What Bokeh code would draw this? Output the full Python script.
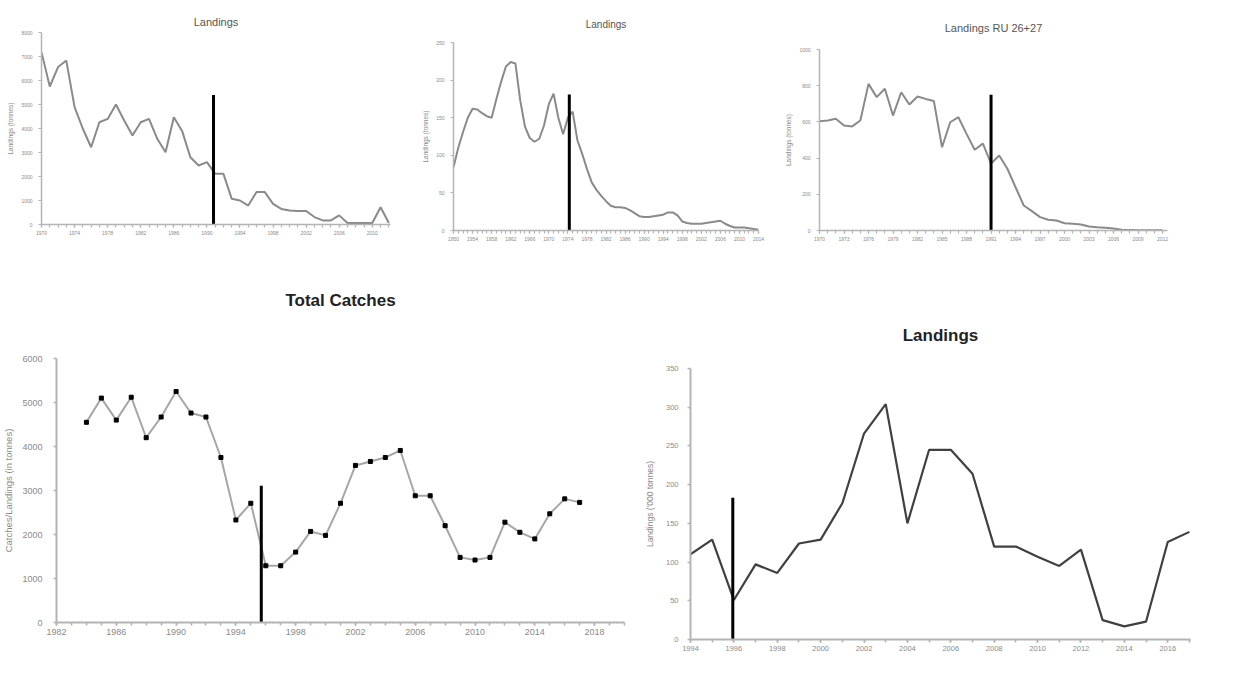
from bokeh.plotting import figure
from bokeh.layouts import column, row
from bokeh.models import FixedTicker, Range1d, Title
from bokeh.embed import file_html
from bokeh.resources import INLINE

# ---------------- data ----------------
# Panel 1: Landings (top left)
p1_years = list(range(1970, 2013))
p1_vals = [7180, 5750, 6560, 6830, 4890, 3990, 3220, 4260, 4400, 5000,
           4330, 3710, 4260, 4400, 3570, 3010, 4470, 3900, 2800, 2460,
           2600, 2110, 2110, 1070, 1000, 790, 1350, 1350, 860, 650,
           580, 560, 560, 310, 170, 170, 380, 60, 60, 60,
           60, 720, 60]
p1_xticks = list(range(1970, 2011, 4))
p1_yticks = [0, 1000, 2000, 3000, 4000, 5000, 6000, 7000, 8000]
p1_shift = [1990.8]
p1_shift_top = [5400]

# Panel 2: Landings (top middle)
p2_years = list(range(1950, 2015))
p2_vals = [84, 110, 131, 150, 162, 161, 156, 152, 150, 175,
           198, 218, 224, 222, 173, 138, 123, 118, 122, 140,
           168, 182, 150, 128, 150, 158, 120, 102, 82, 64,
           54, 46, 39, 33, 31, 31, 30, 27, 23, 19,
           18, 18, 19, 20, 21, 24, 24, 20, 12, 10,
           9, 9, 9, 10, 11, 12, 13, 9, 6, 4,
           4, 4, 3, 2, 1]
p2_xticks = list(range(1950, 2015, 4))
p2_yticks = [0, 50, 100, 150, 200, 250]
p2_shift = [1974.3]
p2_shift_top = [181]

# Panel 3: Landings RU 26+27 (top right)
p3_years = list(range(1970, 2013))
p3_vals = [604, 608, 617, 580, 575, 608, 810, 737, 783, 635,
           764, 696, 740, 727, 715, 460, 598, 626, 534, 446,
           480, 370, 414, 341, 239, 138, 107, 74, 59, 55,
           40, 37, 33, 22, 18, 15, 11, 4, 3, 2,
           2, 2, 1]
p3_xticks = list(range(1970, 2013, 3))
p3_yticks = [0, 200, 400, 600, 800, 1000]
p3_shift = [1991.0]
p3_shift_top = [750]

# Panel 4: Total Catches (bottom left)
p4_years = list(range(1984, 2018))
p4_vals = [4550, 5100, 4600, 5120, 4200, 4670, 5250, 4760, 4670, 3750,
           2330, 2710, 1290, 1290, 1600, 2070, 1980, 2710, 3570, 3660,
           3750, 3910, 2880, 2880, 2200, 1480, 1420, 1480, 2280, 2050,
           1900, 2470, 2810, 2730]
p4_xticks = list(range(1982, 2019, 4))
p4_minor = list(range(1982, 2021))
p4_yticks = [0, 1000, 2000, 3000, 4000, 5000, 6000]
p4_shift = [1995.7]
p4_shift_top = [3110]

# Panel 5: Landings (bottom right)
p5_years = list(range(1994, 2018))
p5_vals = [110, 129, 51, 97, 86, 124, 129, 176, 266, 304,
           150, 245, 245, 214, 120, 120, 107, 95, 116, 25,
           17, 23, 126, 139]
p5_xticks = list(range(1994, 2017, 2))
p5_yticks = [0, 50, 100, 150, 200, 250, 300, 350]
p5_shift = [1995.95]
p5_shift_top = [183]

FONT = "Liberation Sans"
AXIS_COL = "#b4b4b4"
LABEL_COL = "#8a8a8a"


def make_fig(w, h, xr, yr, bl, br, bt, bb, xticks, minor, yticks,
             tick_fs, ystand, ylab, ylab_fs, ylab_stand, title, title_fs,
             title_style, title_col, spacer, axis_w):
    p = figure(width=w, height=h, x_range=Range1d(*xr), y_range=Range1d(*yr),
               output_backend="svg", toolbar_location=None,
               min_border_left=bl, min_border_right=br,
               min_border_top=bt, min_border_bottom=bb)
    p.xgrid.visible = False
    p.ygrid.visible = False
    p.outline_line_color = None
    p.background_fill_color = "white"
    p.border_fill_color = "white"
    p.xaxis.ticker = FixedTicker(ticks=xticks, minor_ticks=minor)
    p.yaxis.ticker = FixedTicker(ticks=yticks)
    for ax in (p.xaxis, p.yaxis):
        ax.axis_line_color = AXIS_COL
        ax.axis_line_width = axis_w
        ax.major_tick_line_color = AXIS_COL
        ax.major_tick_line_width = axis_w * 0.8
        ax.major_tick_in = 0
        ax.major_tick_out = 3
        ax.minor_tick_line_color = AXIS_COL
        ax.minor_tick_line_width = axis_w * 0.8
        ax.minor_tick_in = 0
        ax.minor_tick_out = 3
        ax.major_label_text_font = FONT
        ax.major_label_text_font_size = f"{tick_fs}px"
        ax.major_label_text_color = LABEL_COL
        ax.major_label_standoff = 3
    p.yaxis.major_label_standoff = ystand
    p.yaxis.minor_tick_line_color = None
    p.yaxis.axis_label = ylab
    p.yaxis.axis_label_text_font = FONT
    p.yaxis.axis_label_text_font_size = f"{ylab_fs}px"
    p.yaxis.axis_label_text_font_style = "normal"
    p.yaxis.axis_label_text_color = LABEL_COL
    p.yaxis.axis_label_standoff = ylab_stand
    if spacer > 0:
        p.add_layout(Title(text=" ", text_font_size=f"{spacer}px",
                           standoff=0), "above")
    t = Title(text=title, align="center",
              text_font=FONT, text_font_size=f"{title_fs}px",
              text_font_style=title_style, text_color=title_col)
    p.add_layout(t, "above")
    return p


# Panel 1
p1 = make_fig(410, 255, (1970, 2012.2), (0, 8000), 41, 20, 32, 31,
              p1_xticks, p1_years, p1_yticks, 5, 6, "Landings (tonnes)", 6.5, 4,
              "Landings", 11, "normal", "#555555", 0, 1.5)
p1.line(p1_years, p1_vals, line_color="#8a8a8a", line_width=2)
p1.segment(x0=p1_shift, y0=[0], x1=p1_shift, y1=p1_shift_top,
           line_color="black", line_width=3)

# Panel 2
p2 = make_fig(365, 255, (1950, 2014), (0, 250), 43, 17, 42, 25,
              p2_xticks, p2_years, p2_yticks, 5, 6, "Landings (tonnes)", 6.5, 4,
              "Landings", 10, "normal", "#555555", 6, 1.5)
p2.line(p2_years, p2_vals, line_color="#8a8a8a", line_width=2)
p2.segment(x0=p2_shift, y0=[0], x1=p2_shift, y1=p2_shift_top,
           line_color="black", line_width=3)

# Panel 3
p3 = make_fig(464, 255, (1970, 2012.6), (0, 1000), 44, 72, 49, 25,
              p3_xticks, p3_years, p3_yticks, 5, 6, "Landings (tonnes)", 6.5, 4,
              "Landings RU 26+27", 11, "normal", "#555555", 8, 1.5)
p3.line(p3_years, p3_vals, line_color="#8a8a8a", line_width=2)
p3.segment(x0=p3_shift, y0=[0], x1=p3_shift, y1=p3_shift_top,
           line_color="black", line_width=3)

# Panel 4
p4 = make_fig(640, 429, (1982, 2020), (0, 6000), 55, 16, 103, 62,
              p4_xticks, p4_minor, p4_yticks, 9, 11, "Catches/Landings (in tonnes)", 9.5, 5,
              "Total Catches", 17, "bold", "#222222", 38, 2)
p4.line(p4_years, p4_vals, line_color="#a6a6a6", line_width=2)
p4.scatter(p4_years, p4_vals, marker="square", size=4, color="black")
p4.segment(x0=p4_shift, y0=[0], x1=p4_shift, y1=p4_shift_top,
           line_color="black", line_width=3)

# Panel 5
p5 = make_fig(599, 429, (1994, 2017.05), (0, 350), 50, 49, 113, 45,
              p5_xticks, p5_years, p5_yticks, 7.5, 9, "Landings ('000 tonnes)", 8.5, 8,
              "Landings", 17, "bold", "#222222", 15, 2)
p5.line(p5_years, p5_vals, line_color="#404040", line_width=2.2)
p5.segment(x0=p5_shift, y0=[0], x1=p5_shift, y1=p5_shift_top,
           line_color="black", line_width=3)

top_row = row(column(p1), column(p2), column(p3), spacing=0)
bottom_row = row(column(p4), column(p5), spacing=0)
layout = column(top_row, bottom_row, spacing=0)

open("out.html", "w").write(file_html(layout, INLINE))
